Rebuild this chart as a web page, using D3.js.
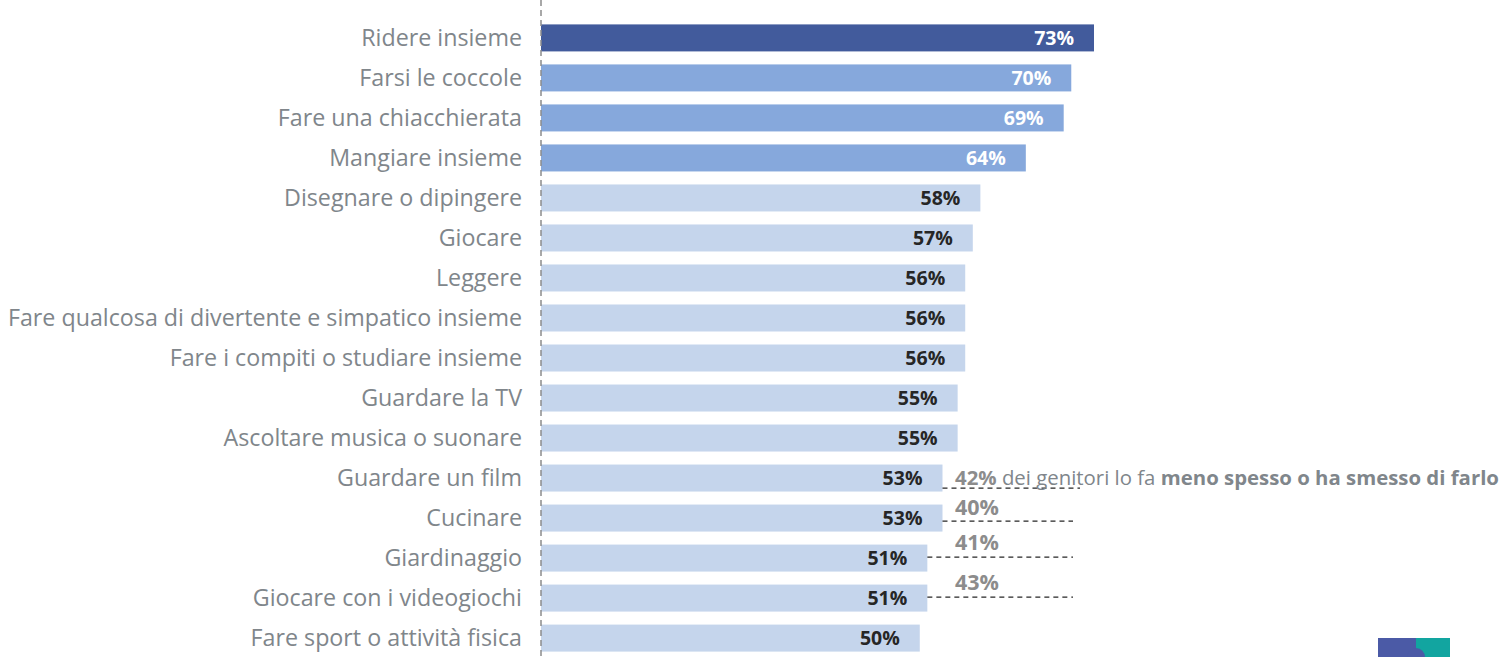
<!DOCTYPE html>
<html>
<head>
<meta charset="utf-8">
<script src="https://cdn.jsdelivr.net/npm/d3@7"></script>
<style>
  body { margin: 0; background: #fff; }
  svg { display: block; }
</style>
</head>
<body>
<div id="chart"></div>
<script>
// activities and share of parents who do them with their kids (%)
const categories = [
  'Ridere insieme', 'Farsi le coccole', 'Fare una chiacchierata', 'Mangiare insieme',
  'Disegnare o dipingere', 'Giocare', 'Leggere',
  'Fare qualcosa di divertente e simpatico insieme', 'Fare i compiti o studiare insieme',
  'Guardare la TV', 'Ascoltare musica o suonare', 'Guardare un film', 'Cucinare',
  'Giardinaggio', 'Giocare con i videogiochi', 'Fare sport o attività fisica'
];
const values = [73, 70, 69, 64, 58, 57, 56, 56, 56, 55, 55, 53, 53, 51, 51, 50];
// "meno spesso o ha smesso" annotations
const noteCats = ['Guardare un film', 'Cucinare', 'Giardinaggio', 'Giocare con i videogiochi'];
const noteValues = [42, 40, 41, 43];

const W = 1501, H = 657;
const x0 = 541, rowTop = 18, rowStep = 40;

const svg = d3.select('#chart').append('svg').attr('width', W).attr('height', H);

const x = d3.scaleLinear().domain([0, 73]).range([x0, 1094]);
const y = d3.scaleBand().domain(categories)
  .range([rowTop, rowTop + rowStep * categories.length]).paddingInner(0.325).paddingOuter(0.16);

const barColor = i => i === 0 ? '#425b9c' : (i < 4 ? '#86a8dc' : '#c5d5ec');
const valColor = i => i < 4 ? '#ffffff' : '#262626';

svg.append('g').selectAll('rect')
  .data(values)
  .join('rect')
  .attr('x', x(0))
  .attr('y', (d, i) => y(categories[i]))
  .attr('width', d => x(d) - x(0))
  .attr('height', y.bandwidth())
  .attr('fill', (d, i) => barColor(i));

// vertical dashed axis
svg.append('line')
  .attr('x1', x0).attr('x2', x0).attr('y1', 0).attr('y2', H)
  .attr('stroke', '#8c8c8c').attr('stroke-width', 1.5)
  .attr('stroke-dasharray', '6,4');

const font = 'Open Sans, Noto Sans, sans-serif';

const labels = svg.append('g').selectAll('text')
  .data(categories)
  .join('text')
  .attr('x', 522)
  .attr('y', d => y(d) + y.bandwidth() / 2)
  .attr('dy', '0.35em')
  .attr('text-anchor', 'end')
  .attr('fill', '#80868b')
  .style('font-family', font)
  .style('font-size', '20px')
  .text(d => d);
// fit the longest label to the reference width
const longest = d3.max(labels.nodes(), n => n.getComputedTextLength());
labels.style('font-size', (20 * 514 / longest).toFixed(2) + 'px');

svg.append('g').selectAll('text')
  .data(values)
  .join('text')
  .attr('x', d => x(d) - 20)
  .attr('y', (d, i) => y(categories[i]) + y.bandwidth() / 2)
  .attr('dy', '0.36em')
  .attr('text-anchor', 'end')
  .attr('fill', (d, i) => valColor(i))
  .style('font-family', font)
  .style('font-size', '19.5px')
  .style('font-weight', 700)
  .text(d => d + '%');

// annotation dashed leaders + percentages
const lineOff = [10, 3, -1, -1];
const textOff = [0, -11, -16, -16];
const noteG = svg.append('g');
noteCats.forEach((c, k) => {
  const v = values[categories.indexOf(c)];
  const cy = y(c) + y.bandwidth() / 2;
  noteG.append('line')
    .attr('x1', x(v)).attr('x2', k === 0 ? 1080 : 1073)
    .attr('y1', cy + lineOff[k]).attr('y2', cy + lineOff[k])
    .attr('stroke', '#262626').attr('stroke-width', 1.2)
    .attr('stroke-dasharray', '5,4');
  const t = noteG.append('text')
    .attr('x', 955)
    .attr('y', cy + textOff[k])
    .attr('dy', '0.35em')
    .attr('fill', '#8c8c8c')
    .style('font-family', font)
    .style('font-size', k === 0 ? '19.5px' : '21.5px');
  t.append('tspan').style('font-weight', 700).text(noteValues[k] + '%');
  if (k === 0) {
    t.append('tspan').attr('fill', '#80868b').text(' dei genitori lo fa ');
    t.append('tspan').attr('fill', '#80868b').style('font-weight', 700).text('meno spesso o ha smesso di farlo');
  }
});
// fit first note to reference width
const firstNote = noteG.selectAll('text').nodes()[0];
const nl = firstNote.getComputedTextLength();
d3.select(firstNote).style('font-size', (19.5 * 544 / nl).toFixed(2) + 'px');

// logo fragment bottom right
svg.append('rect').attr('x', 1378).attr('y', 638).attr('width', 38).attr('height', 19).attr('fill', '#4b5aa6');
svg.append('rect').attr('x', 1416).attr('y', 638).attr('width', 34).attr('height', 19).attr('fill', '#12a5a0');
svg.append('circle').attr('cx', 1416).attr('cy', 657).attr('r', 9).attr('fill', '#4b5aa6');
</script>
</body>
</html>
